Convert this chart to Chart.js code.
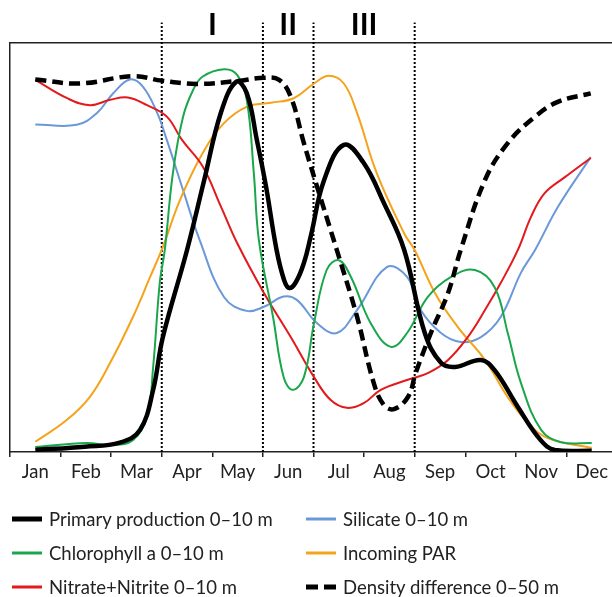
<!DOCTYPE html>
<html><head><meta charset="utf-8">
<script src="https://cdn.jsdelivr.net/npm/chart.js@4.4.1/dist/chart.umd.min.js"></script>
<style>
html,body{margin:0;padding:0;background:#fff;}
#wrap{position:relative;width:612px;height:597px;overflow:hidden;background:#fff;}
#c{position:absolute;left:0;top:0;width:612px;height:490px;}
#legend{position:absolute;left:0;top:0;width:612px;height:597px;font-family:Lato,"Open Sans",sans-serif;font-size:18.5px;color:#222;pointer-events:none;}
.item{position:absolute;display:flex;align-items:center;height:30px;white-space:nowrap;}
.item svg{margin-right:7px;}
</style></head>
<body><div id="wrap"><canvas id="c" width="612" height="490"></canvas><div id="legend"></div></div>
<script>
// ---- data (x = month index, 0 = Jan; y = relative value 0-100) ----
const months = ['Jan','Feb','Mar','Apr','May','Jun','Jul','Aug','Sep','Oct','Nov','Dec'];
const phaseBounds = [2.5, 4.5, 5.5, 7.5];
const phaseLabels = ['I','II','III'];

const primaryProduction = [[0,0.5],[0.98,1.3],[1.67,2.3],[2.07,5.4],[2.33,15.2],[2.52,28],[3.0,49.4],[3.33,66],[3.67,83],[3.97,90.5],[4.18,87.8],[4.38,76.3],[4.56,65],[4.77,49.4],[4.92,42],[5.02,40.1],[5.15,41.5],[5.31,46.2],[5.45,53],[5.71,66.5],[6.1,75.1],[6.49,70.7],[6.89,60.9],[7.29,49.5],[7.7,29.1],[8.02,21.8],[8.3,20.8],[8.81,22.5],[9.08,20],[9.54,11],[9.99,2.9],[10.27,0.5],[11,0.3]];
const chlorophyll = [[0,1.2],[1.02,2.2],[1.48,1.7],[1.93,2.9],[2.21,8.6],[2.33,20.8],[2.46,41.3],[2.56,49.4],[2.72,68.2],[2.92,81.9],[3.12,88.5],[3.31,91.8],[3.73,93.6],[3.99,92.2],[4.18,86.1],[4.32,68.2],[4.42,51.8],[4.7,33],[4.91,18.3],[5.09,15.2],[5.31,18.3],[5.51,31.5],[5.76,44.5],[6.0,46.9],[6.24,42.8],[6.63,31.5],[7.03,25.7],[7.35,29.1],[7.76,37.9],[8.22,42.8],[8.69,44.5],[9.08,40.3],[9.34,29.1],[9.6,16.9],[10.0,5.4],[10.39,2.4],[11,2.2]];
const nitrate = [[0,91],[0.63,86.5],[1.08,84.8],[1.48,86.1],[1.83,86.7],[2.21,84.8],[2.6,82],[2.9,76.3],[3.31,69.8],[3.67,60],[3.99,51.1],[4.52,38.9],[5.05,28.1],[5.51,18.3],[5.84,12.7],[6.16,10.8],[6.5,12],[6.83,15.2],[7.35,17.6],[7.76,19.3],[8.16,22.5],[8.55,28.1],[8.89,34.7],[9.2,41.3],[9.54,49.4],[9.8,57.5],[10.07,63.3],[10.47,67.2],[10.98,71.9]];
const silicate = [[0,80.1],[0.82,80],[1.22,82.9],[1.54,87.7],[1.87,91.1],[2.13,89.3],[2.41,82.9],[2.6,76.3],[2.92,64.1],[3.25,51.8],[3.73,37.9],[4.18,34.5],[4.52,35.5],[4.91,38],[5.17,37.2],[5.57,31.5],[5.96,29.1],[6.36,34.7],[6.95,45.2],[7.35,42.8],[7.62,34.7],[8.02,29.1],[8.41,26.9],[8.81,28.1],[9.2,33],[9.6,43.8],[9.88,49.4],[10.33,59.9],[10.98,72.1]];
const incomingPAR = [[0,2.5],[0.62,7.8],[1.08,13.5],[1.48,21.8],[1.93,33],[2.27,42.8],[2.52,50.1],[2.86,61.6],[3.31,73.1],[3.73,80.4],[4.18,84.4],[4.66,85.4],[5.11,86.5],[5.51,90.1],[5.8,92],[6.1,90.1],[6.36,82.9],[6.75,68.2],[7.29,53.5],[7.5,49.4],[7.9,38.9],[8.35,30.6],[8.89,22.5],[9.34,13.4],[9.74,7.1],[10.13,3.4],[11,1]];
const densityDiff = [[0,91.1],[0.88,90.1],[1.93,91.9],[2.5,90.8],[3.19,90.0],[3.98,90.7],[4.52,91.5],[4.82,91.0],[5.05,86.9],[5.31,75.5],[5.57,64.9],[5.96,49.4],[6.36,33.1],[6.69,16.9],[6.89,11.5],[7.09,10.5],[7.37,13.5],[7.52,19.3],[7.82,29.1],[8.16,38.9],[8.41,49.4],[8.89,66.5],[9.34,75.5],[9.87,81.9],[10.33,85.6],[10.98,87.7]];

const pts = a => a.map(p => ({x:p[0], y:p[1]}));

const series = [
  {label:'Primary production 0\u201310 m', data:primaryProduction, color:'#000000', width:4.5, dash:[], order:2, legendWidth:5},
  {label:'Silicate 0\u201310 m', data:silicate, color:'#6a98d8', width:2, dash:[], order:6, legendWidth:3},
  {label:'Chlorophyll a 0\u201310 m', data:chlorophyll, color:'#1aa64a', width:2, dash:[], order:3, legendWidth:3},
  {label:'Incoming PAR', data:incomingPAR, color:'#f5a31a', width:2, dash:[], order:5, legendWidth:3},
  {label:'Nitrate+Nitrite 0\u201310 m', data:nitrate, color:'#e3191c', width:2, dash:[], order:4, legendWidth:3},
  {label:'Density difference 0\u201350 m', data:densityDiff, color:'#000000', width:4.5, dash:[11,6], order:1, legendWidth:5}
];

const datasets = series.map(s => ({
  label:s.label, data:pts(s.data), borderColor:s.color, backgroundColor:s.color,
  borderWidth:s.width, borderDash:s.dash, pointRadius:0, fill:false,
  tension:0.4, order:s.order, isSeries:true
}));
phaseBounds.forEach(b => datasets.push({
  label:'', data:[{x:b,y:0},{x:b,y:105}], borderColor:'#000', borderWidth:2,
  borderDash:[2,2], pointRadius:0, clip:false, order:10, isSeries:false
}));

const phasePlugin = {
  id:'phases',
  afterDraw(chart){
    const ctx = chart.ctx, xs = chart.scales.x;
    ctx.save();
    ctx.fillStyle = '#000';
    ctx.font = 'bold 30px Lato, sans-serif';
    ctx.textAlign = 'center';
    ctx.textBaseline = 'middle';
    phaseLabels.forEach((t,i) => {
      const c = (phaseBounds[i] + phaseBounds[i+1]) / 2;
      ctx.fillText(t, xs.getPixelForValue(c), chart.chartArea.top - 18);
    });
    ctx.restore();
  }
};

const chart = new Chart(document.getElementById('c'), {
  type:'line',
  data:{datasets},
  options:{
    responsive:false, animation:false, devicePixelRatio:1,
    layout:{padding:{left:10, top:43, right:0, bottom:0}},
    plugins:{legend:{display:false}, tooltip:{enabled:false}},
    scales:{
      x:{type:'linear', min:-0.5, max:11.397,
        afterFit:s => { s.height = 38; },
        afterBuildTicks:s => { const t=[]; for(let v=-0.5; v<=11.01; v+=0.5) t.push({value:v}); s.ticks = t; },
        ticks:{autoSkip:false, maxRotation:0, padding:4, color:'#222', font:{family:'Lato', size:18.5},
          callback:v => Number.isInteger(v) ? months[v] : ''},
        grid:{drawOnChartArea:false, tickLength:5, lineWidth:1.5,
          tickColor:ctx => (ctx.tick && Number.isInteger(ctx.tick.value)) ? 'rgba(0,0,0,0)' : '#222'},
        border:{display:true, color:'#222', width:1.5}
      },
      xTop:{type:'linear', position:'top', min:-0.5, max:11.397, afterFit:s => { s.height = 0; },
        ticks:{display:false}, grid:{display:false}, border:{display:true, color:'#222', width:1.5}},
      y:{min:0, max:100, afterFit:s => { s.width = 0; },
        ticks:{display:false}, grid:{display:false}, border:{display:true, color:'#222', width:1.5}}
    }
  },
  plugins:[phasePlugin]
});

// ---- HTML legend built from the chart's datasets ----
const legend = document.getElementById('legend');
const colLeft = [12, 306];
const rowTop = [504, 538, 572];
chart.data.datasets.filter(d => d.isSeries).forEach((d,i) => {
  const s = series[i];
  const div = document.createElement('div');
  div.className = 'item';
  div.style.left = colLeft[i % 2] + 'px';
  div.style.top = rowTop[Math.floor(i / 2)] + 'px';
  const dash = s.dash.length ? 'stroke-dasharray="12 6"' : '';
  div.innerHTML = '<svg width="30" height="10"><line x1="0" y1="5" x2="30" y2="5" stroke="' + s.color +
    '" stroke-width="' + s.legendWidth + '" ' + dash + '/></svg><span>' + d.label + '</span>';
  legend.appendChild(div);
});
</script>
</body></html>
